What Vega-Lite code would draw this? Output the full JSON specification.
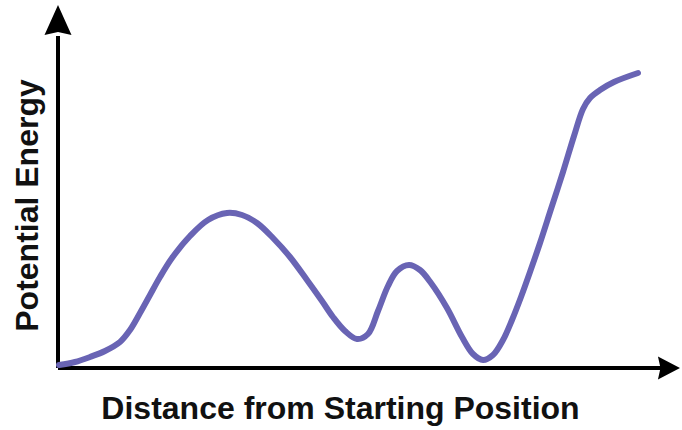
{
  "$schema": "https://vega.github.io/schema/vega-lite/v6.json",
  "width": 624,
  "height": 362,
  "autosize": "none",
  "padding": {"left": 58, "top": 6, "right": 0, "bottom": 62},
  "background": "white",
  "config": {
    "view": {"stroke": null},
    "axis": {
      "domain": false, "ticks": false, "labels": false, "grid": false,
      "titleFont": "Liberation Sans", "titleFontSize": 32, "titleFontWeight": "bold",
      "titleColor": "#111111"
    }
  },
  "datasets": {
    "curve": [
      {"x": 1, "y": 3}, {"x": 17, "y": 6}, {"x": 32, "y": 11}, {"x": 47, "y": 17},
      {"x": 62, "y": 26}, {"x": 72, "y": 38}, {"x": 82, "y": 55}, {"x": 92, "y": 73},
      {"x": 102, "y": 91}, {"x": 114, "y": 110}, {"x": 132, "y": 132}, {"x": 150, "y": 148},
      {"x": 169, "y": 155}, {"x": 184, "y": 153}, {"x": 199, "y": 145}, {"x": 215, "y": 130},
      {"x": 232, "y": 111}, {"x": 249, "y": 88}, {"x": 264, "y": 67}, {"x": 275, "y": 51},
      {"x": 287, "y": 37}, {"x": 299, "y": 29}, {"x": 310, "y": 34}, {"x": 320, "y": 57},
      {"x": 330, "y": 82}, {"x": 339, "y": 97}, {"x": 351, "y": 103}, {"x": 362, "y": 98},
      {"x": 373, "y": 85}, {"x": 389, "y": 60}, {"x": 404, "y": 31}, {"x": 415, "y": 14},
      {"x": 425, "y": 8}, {"x": 435, "y": 13}, {"x": 445, "y": 28}, {"x": 454, "y": 48},
      {"x": 463, "y": 71}, {"x": 472, "y": 96}, {"x": 482, "y": 125}, {"x": 493, "y": 159},
      {"x": 505, "y": 196}, {"x": 516, "y": 232}, {"x": 525, "y": 259}, {"x": 532, "y": 270},
      {"x": 542, "y": 278}, {"x": 556, "y": 286}, {"x": 580, "y": 295}
    ],
    "axes": [
      {"x": 0, "y": 0, "x2": 0, "y2": 332},
      {"x": 0, "y": 0, "x2": 604, "y2": 0}
    ],
    "arrows": [
      {"x": 0, "y": 348, "dir": "up"},
      {"x": 607, "y": 0, "dir": "right"}
    ]
  },
  "encoding": {
    "x": {
      "field": "x", "type": "quantitative",
      "scale": {"domain": [0, 624], "nice": false, "zero": false},
      "axis": {"title": "Distance from Starting Position", "titleX": 282, "titleY": 50,
               "titleBaseline": "alphabetic", "titleAlign": "center", "titleAnchor": null}
    },
    "y": {
      "field": "y", "type": "quantitative",
      "scale": {"domain": [0, 362], "nice": false, "zero": false},
      "axis": {"title": "Potential Energy", "titleX": -21, "titleY": 199, "titleAngle": -90,
               "titleBaseline": "alphabetic", "titleAlign": "center", "titleAnchor": null}
    }
  },
  "layer": [
    {
      "data": {"name": "axes"},
      "mark": {"type": "rule", "color": "#000000", "strokeWidth": 4},
      "encoding": {
        "x2": {"field": "x2"},
        "y2": {"field": "y2"}
      }
    },
    {
      "data": {"name": "arrows"},
      "mark": {"type": "point", "filled": true, "size": 900, "color": "#000000", "opacity": 1},
      "encoding": {
        "shape": {
          "field": "dir", "type": "nominal", "legend": null,
          "scale": {"domain": ["up", "right"],
                    "range": ["M0,-1L0.9,1L0,0.8L-0.9,1Z", "M1,0L-0.47,0.77L-0.3,0L-0.47,-0.77Z"]}
        }
      }
    },
    {
      "data": {"name": "curve"},
      "mark": {"type": "line", "color": "#6964B4", "strokeWidth": 6, "interpolate": "catmull-rom",
               "strokeCap": "round", "strokeJoin": "round"}
    }
  ]
}
